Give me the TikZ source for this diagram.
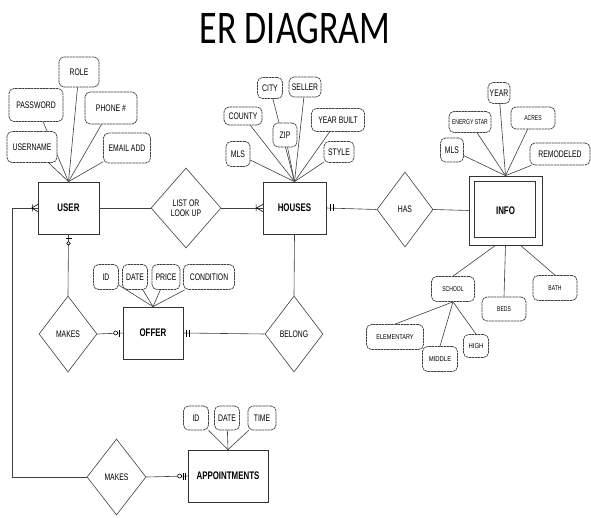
\documentclass[tikz,border=0pt]{standalone}
\usepackage{fontspec}
\setsansfont{Liberation Sans}
\newfontfamily\titlefont{Carlito}
\usetikzlibrary{shapes.geometric,backgrounds}
\newcommand\sqz[1]{\scalebox{0.72}[1]{#1}}
\tikzset{
  attr/.style={draw=black!75, line width=0.7pt, dash pattern=on 2.5pt off 0.6pt,
    rounded corners=5pt, fill=white, inner sep=0pt,
    font=\sffamily\fontsize{9.5}{10}\selectfont},
  sattr/.style={attr, font=\sffamily\fontsize{7}{8}\selectfont},
  ent/.style={draw=black!80, line width=0.7pt, fill=white, inner sep=0pt,
    font=\sffamily\bfseries\fontsize{11}{12}\selectfont},
  rel/.style={draw=black!75, line width=0.6pt, diamond, fill=white, inner sep=0pt,
    align=center, font=\sffamily\fontsize{9.5}{10.5}\selectfont},
  conn/.style={draw=black!75, line width=0.6pt},
  mk/.style={draw=black, line width=0.6pt}
}
\begin{document}
\begin{tikzpicture}[x=1pt,y=-1pt]
\useasboundingbox (0,0) rectangle (591,518);
% title
\node[font=\titlefont\fontsize{36}{40}\selectfont] (title) at (295,28) {\scalebox{1}[1.3]{ER DIAGRAM}};

% entities
\node[ent, minimum width=61pt, minimum height=52pt] (user) at (68.5,208) {\sqz{USER}};
\node[ent, minimum width=63pt, minimum height=52pt] (houses) at (294.5,208) {\sqz{HOUSES}};
\node[ent, minimum width=60pt, minimum height=52pt] (offer) at (153,333) {\sqz{OFFER}};
\node[ent, minimum width=80pt, minimum height=52pt] (appt) at (228,476) {\sqz{APPOINTMENTS}};
\node[ent, minimum width=73pt, minimum height=69pt] (info) at (505.5,210.5) {\sqz{INFO}};
\draw[draw=black!80, line width=0.7pt] ([shift={(6,6)}]info.north west) rectangle ([shift={(-7,-8)}]info.south east);

% relationships
\node[rel, minimum width=70pt, minimum height=80pt] (list) at (186,208) {\sqz{LIST OR}\\\sqz{LOOK UP}};
\node[rel, minimum width=56pt, minimum height=75pt] (has) at (405,209.5) {\sqz{HAS}};
\node[rel, minimum width=58pt, minimum height=76pt] (makes) at (68,334) {\sqz{MAKES}};
\node[rel, minimum width=58pt, minimum height=76pt] (belong) at (294,334) {\sqz{BELONG}};
\node[rel, minimum width=59pt, minimum height=76pt] (makes2) at (116.5,477) {\sqz{MAKES}};

% user attributes
\node[attr, minimum width=40pt, minimum height=30pt] (role) at (79,72) {\sqz{ROLE}};
\node[attr, minimum width=54pt, minimum height=33pt] (password) at (36,105) {\sqz{PASSWORD}};
\node[attr, minimum width=52pt, minimum height=32pt] (phone) at (111,108) {\sqz{PHONE \#}};
\node[attr, minimum width=50pt, minimum height=31pt] (username) at (32,147) {\sqz{USERNAME}};
\node[attr, minimum width=47pt, minimum height=30pt] (email) at (127,148) {\sqz{EMAIL ADD}};

% houses attributes
\node[attr, minimum width=25pt, minimum height=21pt] (city) at (270,88) {\sqz{CITY}};
\node[attr, minimum width=32pt, minimum height=20pt] (seller) at (305,87) {\sqz{SELLER}};
\node[attr, minimum width=38pt, minimum height=18pt] (county) at (243,116) {\sqz{COUNTY}};
\node[attr, minimum width=24pt, minimum height=24pt] (zip) at (285,135) {\sqz{ZIP}};
\node[attr, minimum width=53pt, minimum height=23pt] (yearbuilt) at (338,120) {\sqz{YEAR BUILT}};
\node[attr, minimum width=24pt, minimum height=25pt] (hmls) at (238,154) {\sqz{MLS}};
\node[attr, minimum width=30pt, minimum height=21pt] (style) at (339,152) {\sqz{STYLE}};

% info attributes
\node[attr, minimum width=22pt, minimum height=21pt] (year) at (499,93) {\sqz{YEAR}};
\node[sattr, minimum width=42pt, minimum height=21pt] (energy) at (470,122) {\sqz{ENERGY STAR}};
\node[sattr, minimum width=44pt, minimum height=22pt] (acres) at (533,118) {\sqz{ACRES}};
\node[attr, minimum width=23pt, minimum height=24pt] (imls) at (452,150) {\sqz{MLS}};
\node[attr, minimum width=60pt, minimum height=22pt] (remodeled) at (560,154) {\sqz{REMODELED}};
\node[sattr, minimum width=43pt, minimum height=25pt] (school) at (453,289) {\sqz{SCHOOL}};
\node[sattr, minimum width=44pt, minimum height=24pt] (beds) at (504,309) {\sqz{BEDS}};
\node[sattr, minimum width=44pt, minimum height=25pt] (bath) at (555,288) {\sqz{BATH}};
\node[sattr, minimum width=57pt, minimum height=25pt] (elem) at (395,337) {\scalebox{0.8}[1]{ELEMENTARY}};
\node[sattr, minimum width=35pt, minimum height=25pt] (middle) at (440,359) {\scalebox{0.85}[1]{MIDDLE}};
\node[sattr, minimum width=25pt, minimum height=23pt] (high) at (476,346) {\scalebox{0.85}[1]{HIGH}};

% offer attributes
\node[attr, minimum width=25pt, minimum height=25pt] (oid) at (106,277) {\sqz{ID}};
\node[attr, minimum width=25pt, minimum height=25pt] (odate) at (135,277) {\sqz{DATE}};
\node[attr, minimum width=28pt, minimum height=25pt] (price) at (166,277) {\sqz{PRICE}};
\node[attr, minimum width=51pt, minimum height=25pt] (cond) at (209,277) {\sqz{CONDITION}};

% appointment attributes
\node[attr, minimum width=25pt, minimum height=24pt] (aid) at (196,418) {\sqz{ID}};
\node[attr, minimum width=25pt, minimum height=24pt] (adate) at (227,418) {\sqz{DATE}};
\node[attr, minimum width=28pt, minimum height=24pt] (time) at (262,418) {\sqz{TIME}};

\coordinate (lc1) at (12,208);
\coordinate (lc2) at (12,477);

\begin{pgfonlayer}{background}
  \fill[white] (0,0) rectangle (591,518);
  % attribute links
  \foreach \a in {role,password,phone,username,email}
    \draw[conn] (\a) -- (user.north);
  \foreach \a in {city,seller,county,zip,yearbuilt,hmls,style}
    \draw[conn] (\a) -- (houses.north);
  \foreach \a in {year,energy,acres,imls,remodeled}
    \draw[conn] (\a) -- (info.north);
  \foreach \a in {oid,odate,price,cond}
    \draw[conn] (\a) -- (offer.north);
  \foreach \a in {aid,adate,time}
    \draw[conn] (\a) -- (appt.north);
  \draw[conn] ([xshift=-10pt]info.south) -- (school.north);
  \draw[conn] (info.south) -- (beds.north);
  \draw[conn] ([xshift=15pt]info.south) -- (bath.north);
  \foreach \a in {elem,middle,high}
    \draw[conn] (school.south) -- (\a.north);
\end{pgfonlayer}

% relationship connectors
\draw[conn] (user.east) -- (list.west);
\draw[conn] (list.east) -- (houses.west);
\draw[conn] (houses.east) -- (has.west);
\draw[conn] (has.east) -- (info.west);
\draw[conn] (houses.south) -- (belong.north);
\draw[conn] (offer.east) -- (belong.west);
\draw[conn] (makes.east) -- (offer.west);
\draw[conn] (makes.north) -- (user.south);
\draw[conn] (user.west) -- (lc1) -- (lc2) -- (makes2.west);
\draw[conn] (makes2.east) -- (appt.west);

% cardinality marks
% user left: crow's foot + bar
\draw[mk] ([xshift=-6pt]user.west) -- ([yshift=-3.5pt]user.west)
          ([xshift=-6pt]user.west) -- ([yshift=3.5pt]user.west)
          ([xshift=-5pt,yshift=-3.5pt]user.west) -- ([xshift=-5pt,yshift=3.5pt]user.west);
% houses left: crow's foot + bar
\draw[mk] ([xshift=-6pt]houses.west) -- ([yshift=-3.5pt]houses.west)
          ([xshift=-6pt]houses.west) -- ([yshift=3.5pt]houses.west)
          ([xshift=-6.5pt,yshift=-3.5pt]houses.west) -- ([xshift=-6.5pt,yshift=3.5pt]houses.west);
% houses right: double bar
\draw[mk] ([xshift=4pt,yshift=-3.5pt]houses.east) -- ([xshift=4pt,yshift=3.5pt]houses.east)
          ([xshift=7pt,yshift=-3.5pt]houses.east) -- ([xshift=7pt,yshift=3.5pt]houses.east);
% offer right: double bar
\draw[mk] ([xshift=3pt,yshift=-3.5pt]offer.east) -- ([xshift=3pt,yshift=3.5pt]offer.east)
          ([xshift=5.5pt,yshift=-3.5pt]offer.east) -- ([xshift=5.5pt,yshift=3.5pt]offer.east);
% offer left: circle + bars
\draw[mk, fill=white] ([xshift=-7pt]offer.west) circle (2pt);
\draw[mk] ([xshift=-3pt,yshift=-3.5pt]offer.west) -- ([xshift=-3pt,yshift=3.5pt]offer.west);
% user bottom: bar + circle
\draw[mk, fill=white] ([yshift=-9pt]user.south) circle (1.8pt);
\draw[mk] ([xshift=-3pt,yshift=-4pt]user.south) -- ([xshift=3pt,yshift=-4pt]user.south);
% appointments left: circle + double bar
\draw[mk, fill=white] ([xshift=-8pt]appt.west) circle (2pt);
\draw[mk] ([xshift=-4.5pt,yshift=-3.5pt]appt.west) -- ([xshift=-4.5pt,yshift=3.5pt]appt.west)
          ([xshift=-2.5pt,yshift=-3.5pt]appt.west) -- ([xshift=-2.5pt,yshift=3.5pt]appt.west);
\end{tikzpicture}
\end{document}
